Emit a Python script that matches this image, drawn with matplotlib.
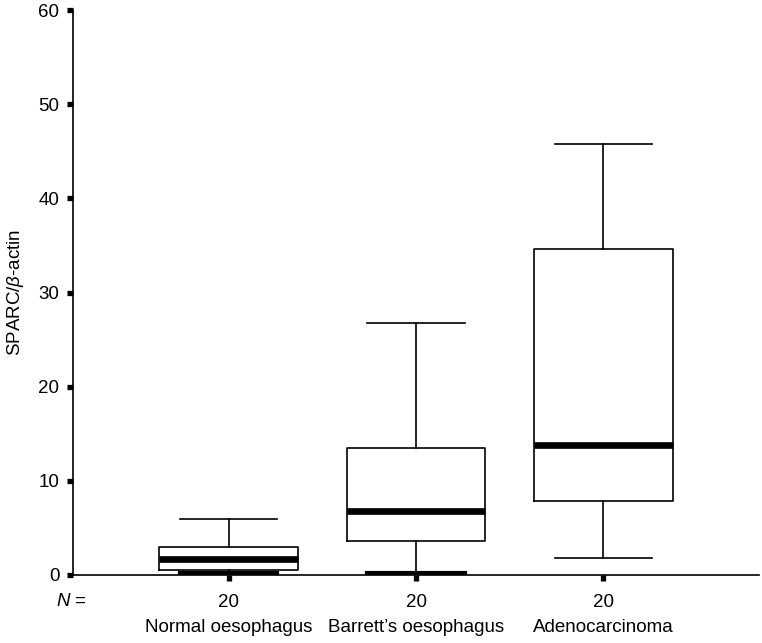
import matplotlib
matplotlib.use("Agg")
import matplotlib.pyplot as plt
import matplotlib.transforms as mtransforms

plt.rcParams["font.family"] = ["Liberation Sans", "DejaVu Sans"]
plt.rcParams["mathtext.fontset"] = "custom"
plt.rcParams["mathtext.it"] = "Liberation Sans:italic"

# 数据
categories = ["Normal oesophagus", "Barrett\u2019s oesophagus", "Adenocarcinoma"]
n_samples = [20, 20, 20]
whisker_low = [0.15, 0.15, 1.8]
q1 = [0.5, 3.6, 7.9]
medians = [1.7, 6.8, 13.8]
q3 = [3.0, 13.5, 34.6]
whisker_high = [5.9, 26.8, 45.8]

stats = []
for lab, lo, a, m, b, hi in zip(categories, whisker_low, q1, medians, q3, whisker_high):
    stats.append({"label": lab, "whislo": lo, "q1": a, "med": m, "q3": b, "whishi": hi})

FS = 13.5

fig = plt.figure(figsize=(7.62, 6.43), dpi=100)
ax = fig.add_axes([0.096, 0.106, 0.900, 0.878])

positions = [1, 2, 3]
res = ax.bxp(stats, positions=positions, widths=0.74, showfliers=False,
             boxprops=dict(color="black", linewidth=1.2),
             whiskerprops=dict(color="black", linewidth=1.2),
             capprops=dict(color="black", linewidth=1.2),
             medianprops=dict(color="black", linewidth=4.8, solid_capstyle="butt"),
             capwidths=0.52)

# 贴近零线的下须帽画粗一些
for i, lo in enumerate(whisker_low):
    if lo < 0.5:
        res["caps"][2 * i].set_linewidth(3.0)

ax.set_xlim(0.17, 3.83)
ax.set_ylim(0, 60)
ax.set_yticks(range(0, 61, 10))
ax.set_xticks(positions)
ax.set_xticklabels([str(n) for n in n_samples])

for s in ["top", "right"]:
    ax.spines[s].set_visible(False)
for s in ["left", "bottom"]:
    ax.spines[s].set_linewidth(1.2)

ax.tick_params(axis="both", direction="out", length=4, width=3.8,
               labelsize=FS, color="black")
ax.tick_params(axis="x", pad=10)
ax.tick_params(axis="y", pad=6)

ax.set_ylabel(r"SPARC/$\it{\beta}$-actin", fontsize=FS, labelpad=9)

trans = mtransforms.blended_transform_factory(ax.transData, fig.transFigure)
for x, lab in zip(positions, categories):
    ax.text(x, 1 - 628 / 643, lab, transform=trans, ha="center", va="center", fontsize=FS)

ax.text(0.074, 1 - 601 / 643, "$\\it{N}$ =", transform=fig.transFigure,
        ha="left", va="center", fontsize=FS)

fig.savefig("out.png", dpi=100)
